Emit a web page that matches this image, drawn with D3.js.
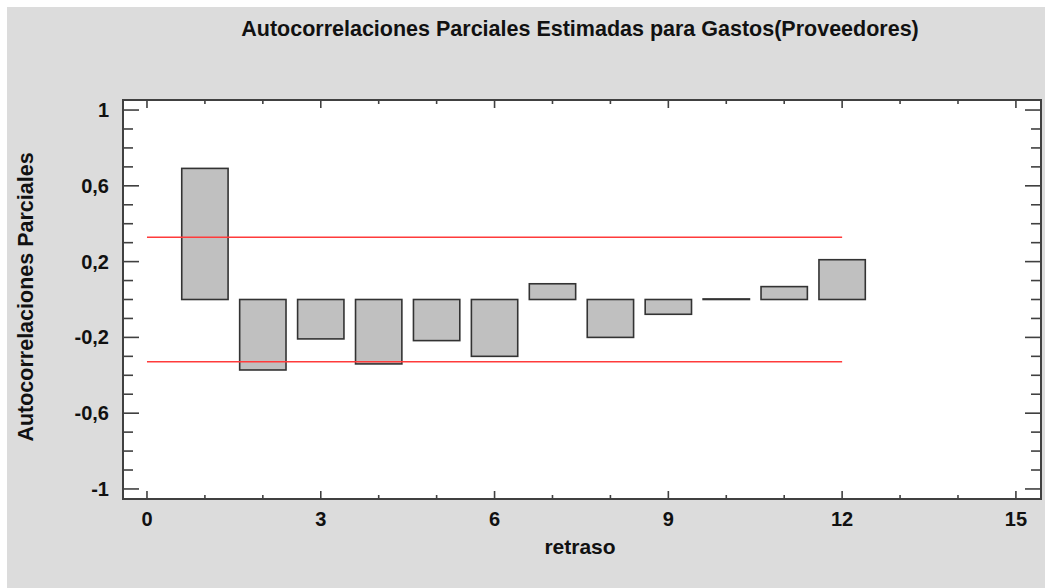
<!DOCTYPE html>
<html>
<head>
<meta charset="utf-8">
<script src="https://cdn.jsdelivr.net/npm/d3@7"></script>
<style>
  html, body { margin: 0; padding: 0; background: #ffffff; }
  svg { display: block; }
  text { font-family: "Liberation Sans", Arial, sans-serif; font-weight: bold; fill: #111; }
</style>
</head>
<body>
<svg id="chart" width="1045" height="588"></svg>
<script>
// Partial autocorrelation estimates by lag
const lags = [1, 2, 3, 4, 5, 6, 7, 8, 9, 10, 11, 12];
const pacf = [0.692, -0.372, -0.208, -0.34, -0.217, -0.30, 0.083, -0.20, -0.078, 0.003, 0.068, 0.21];
// 95% probability limits
const limitUpper = 0.328;
const limitLower = -0.328;
const limitLags = [0, 12];

const xTicks = [0, 3, 6, 9, 12, 15];
const xMinorTicks = d3.range(0, 16);
const yTicks = [-1, -0.6, -0.2, 0.2, 0.6, 1];
const yMinorTicks = d3.range(-10, 11).map(d => d / 10);
const xDomain = [-0.414, 15.433];
const yDomain = [-1.053, 1.053];

const titleText = "Autocorrelaciones Parciales Estimadas para Gastos(Proveedores)";
const xLabel = "retraso";
const yLabel = "Autocorrelaciones Parciales";

const svg = d3.select("#chart");
const W = 1045, H = 588;
const plot = { left: 123, right: 1041, top: 100, bottom: 499 };

// panel background
svg.append("rect").attr("x", 7).attr("y", 7).attr("width", W - 7).attr("height", H - 7)
  .attr("fill", "#dcdcdc");
svg.append("rect")
  .attr("x", plot.left).attr("y", plot.top)
  .attr("width", plot.right - plot.left).attr("height", plot.bottom - plot.top)
  .attr("fill", "#ffffff");

const x = d3.scaleLinear().domain(xDomain).range([plot.left, plot.right]);
const y = d3.scaleLinear().domain(yDomain).range([plot.bottom, plot.top]);
const fmt = d => String(d).replace(".", ",");

// bars
const barW = x(0.8) - x(0);
svg.append("g").selectAll("rect").data(lags).join("rect")
  .attr("x", (d) => x(d) - barW / 2)
  .attr("y", (d, i) => y(Math.max(0, pacf[i])))
  .attr("width", barW)
  .attr("height", (d, i) => Math.max(0.01, Math.abs(y(pacf[i]) - y(0))))
  .attr("fill", "#c0c0c0")
  .attr("stroke", "#333")
  .attr("stroke-width", 1.6);

// probability limits
[limitUpper, limitLower].forEach(v => {
  svg.append("line")
    .attr("x1", x(limitLags[0])).attr("x2", x(limitLags[1]))
    .attr("y1", y(v)).attr("y2", y(v))
    .attr("stroke", "#ff3b3b").attr("stroke-width", 1.5);
});

const axisColor = "#404040";
const tickG = svg.append("g").attr("stroke", axisColor).attr("stroke-width", 1.6);

// x ticks (bottom and top, pointing inward)
xMinorTicks.forEach(t => {
  const major = xTicks.includes(t);
  const len = major ? 8 : 4;
  tickG.append("line").attr("x1", x(t)).attr("x2", x(t))
    .attr("y1", plot.bottom).attr("y2", plot.bottom - len);
  tickG.append("line").attr("x1", x(t)).attr("x2", x(t))
    .attr("y1", plot.top).attr("y2", plot.top + len);
});
// y ticks (left and right, pointing inward)
yMinorTicks.forEach(t => {
  const major = yTicks.some(v => Math.abs(v - t) < 1e-9);
  const len = major ? 16 : 10;
  tickG.append("line").attr("y1", y(t)).attr("y2", y(t))
    .attr("x1", plot.left).attr("x2", plot.left + len);
  tickG.append("line").attr("y1", y(t)).attr("y2", y(t))
    .attr("x1", plot.right).attr("x2", plot.right - len);
});

// frame
svg.append("rect")
  .attr("x", plot.left).attr("y", plot.top)
  .attr("width", plot.right - plot.left).attr("height", plot.bottom - plot.top)
  .attr("fill", "none").attr("stroke", axisColor).attr("stroke-width", 2);

// tick labels
svg.append("g").selectAll("text").data(xTicks).join("text")
  .attr("x", d => x(d)).attr("y", 526)
  .attr("text-anchor", "middle").attr("font-size", 20)
  .text(d => d);
svg.append("g").selectAll("text").data(yTicks).join("text")
  .attr("x", 109).attr("y", d => y(d) + 7)
  .attr("text-anchor", "end").attr("font-size", 20)
  .text(fmt);

// titles
svg.append("text").attr("x", 580).attr("y", 36)
  .attr("text-anchor", "middle").attr("font-size", 21.5)
  .text(titleText);
svg.append("text").attr("x", 580).attr("y", 554)
  .attr("text-anchor", "middle").attr("font-size", 21)
  .text(xLabel);
svg.append("text")
  .attr("transform", "translate(33,297) rotate(-90)")
  .attr("text-anchor", "middle").attr("font-size", 21.5)
  .text(yLabel);
</script>
</body>
</html>
